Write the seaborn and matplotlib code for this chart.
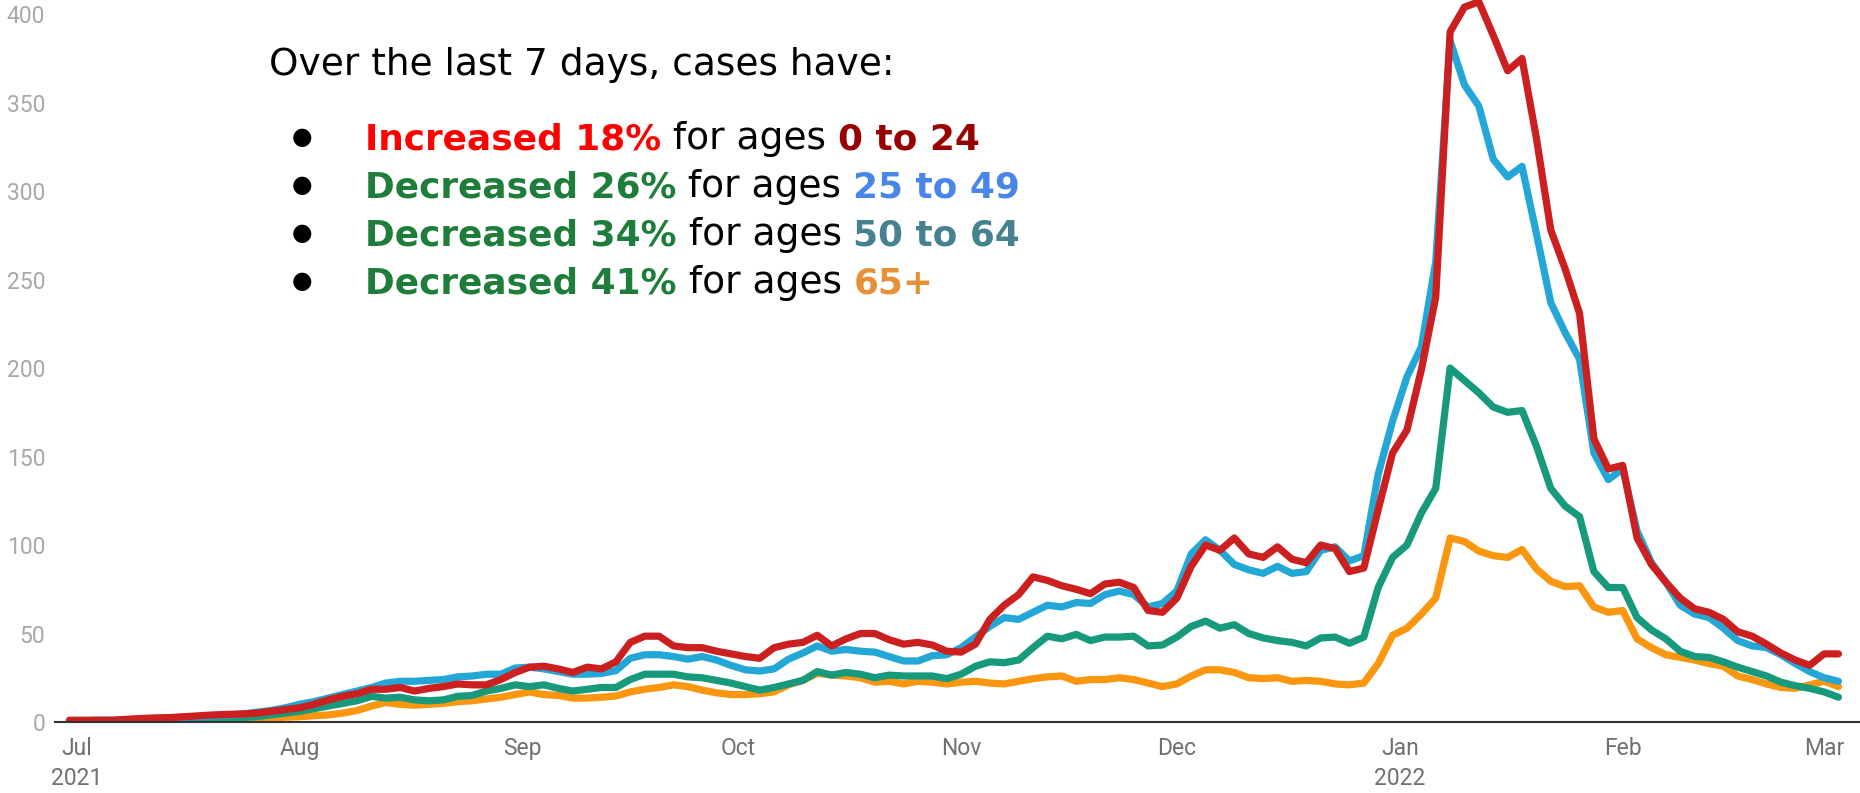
import pandas as pd
import matplotlib
matplotlib.use('Agg')
import matplotlib.pyplot as plt
import seaborn as sns

# 2-day samples, Jun 30 2021 -> Mar 3 2022 (7-day avg cases per 100k)
dates = pd.date_range('2021-06-30', periods=124, freq='2D')

ages_0_24 = [
    1, 1, 1, 1, 1.5, 2, 2.3, 2.5, 3, 3.5, 4, 4.3, 4.5, 5, 6, 7,
    8, 10, 12.5, 14.5, 16, 18.5, 18.5, 19.5, 17.5, 19, 20, 21.5, 21, 21, 24, 28, 31, 31.5,
    30, 28, 31, 30, 34, 45, 48.5, 48.5, 43, 42, 42, 40, 38.5,
    37, 36, 42, 44, 45, 49, 43, 47, 50, 50, 46.5, 44, 45, 43.5, 40, 39.5,
    44, 58, 66, 72, 82, 80, 77, 75, 72.5, 78, 79, 76, 63, 62,
    70, 88, 100, 97, 104, 95, 93, 99, 92, 90, 100, 98, 85, 87, 120, 152,
    165, 199, 240, 390, 404, 407, 388, 368, 375, 330, 278, 256, 231, 160, 143, 145,
    104, 89, 79, 70, 64, 62, 58, 51, 48.5, 44, 39, 35, 32, 38.5, 38.5,
]
ages_25_49 = [
    0.5, 0.7, 1, 1, 1.3, 1.7, 2, 2.3, 2.7, 3, 3.5, 4, 4.5, 5.5, 6.5, 8,
    10, 11.5, 13.5, 15.5, 17.5, 19.5, 22, 23, 23, 23.5, 24, 25.5, 26, 27, 27, 30.5, 31, 30,
    28.5, 27, 27, 27.5, 29, 36, 38, 38, 37, 35.5, 37, 35, 32,
    29.5, 28.8, 30, 35.5, 39, 43, 40, 41, 40, 39.5, 37, 34.5, 34.5, 37.5, 38, 42,
    48, 54, 59, 58, 62, 66, 65, 67.5, 67, 72, 74, 72, 65, 67,
    74, 95, 103, 97, 89, 86, 84, 88, 84, 85, 97, 99, 91, 94, 140, 170,
    195, 212, 260, 385, 360, 348, 318, 308, 314, 276, 237, 220, 205, 152, 137, 143,
    108, 90, 79, 66, 61, 59, 53, 46, 43, 42, 38, 33, 28.5, 25, 23,
]
ages_50_64 = [
    0, 0, 0, 0.3, 0.5, 0.7, 1, 1.2, 1.5, 1.8, 2, 2.3, 2.6, 3, 4, 5,
    6, 7.5, 9, 10.5, 12, 14.5, 13.5, 14, 12.5, 12, 12.5, 14.5, 15, 17.5, 19, 21, 20, 21,
    19, 17.5, 18.5, 19.5, 19.5, 24, 27, 27, 27, 25.5, 25, 23.5, 22,
    20, 18, 19.5, 21.5, 23.5, 28.5, 26.5, 28, 27, 25, 26.5, 26, 26, 26, 24.5, 27,
    31.5, 34, 33.5, 35, 42, 48.5, 47, 49.5, 46, 48, 48, 48.5, 43, 43.5,
    48, 54, 57, 53, 55, 50, 47.5, 46, 45, 43, 47.5, 48, 44.5, 48, 76, 93,
    100, 118, 132, 200, 193, 186, 178, 175, 176, 156, 132, 122, 116, 85, 76, 76,
    59, 52, 47, 40, 37, 36.5, 34, 31, 28.5, 26, 22.5, 20.5, 19, 17, 14,
]
ages_65_plus = [
    0.3, 0.3, 0.3, 0.3, 0.5, 0.5, 0.7, 0.8, 1, 1, 1.2, 1.5, 1.8, 2, 2.3, 2.7,
    3, 3.5, 4, 5, 6.5, 9, 11, 10, 9.5, 10, 10.5, 11.5, 12, 13, 14, 15.5, 17, 15.5,
    15, 13.5, 13.5, 14, 14.7, 17, 18.5, 19.5, 21, 20, 18, 16.5, 15.5,
    15.5, 16, 17, 21, 23.5, 27.5, 26.5, 26, 25, 22.5, 23, 21.5, 23, 22.5, 21.5, 22.5,
    23, 22, 21.5, 23, 24.5, 25.5, 26, 23, 24, 24, 25, 24, 22, 20,
    21.5, 26, 29.5, 29.5, 28, 25, 24.5, 25, 23, 23.5, 23, 21.5, 21, 22, 33, 49,
    53, 61, 70, 104, 102, 96.5, 94, 93, 97.5, 86.5, 79.5, 76.5, 77, 65, 62, 63,
    47, 42, 38, 36.5, 35, 33, 31.5, 26, 24, 21.5, 19.5, 19, 21, 23, 20,
]

series = {'65+': ages_65_plus, '50 to 64': ages_50_64,
          '25 to 49': ages_25_49, '0 to 24': ages_0_24}
colors = {'65+': '#fb960f', '50 to 64': '#179a7b',
          '25 to 49': '#22a7d6', '0 to 24': '#cc1f1f'}

month_ticks = pd.date_range('2021-07-01', '2022-03-01', freq='MS')
month_labels = ['Jul\n2021', 'Aug', 'Sep', 'Oct', 'Nov', 'Dec', 'Jan\n2022', 'Feb', 'Mar']

df = pd.concat([pd.DataFrame({'date': dates, 'cases': v, 'age': k})
                for k, v in series.items()], ignore_index=True)

sns.set_style('white')
plt.rcParams['font.family'] = ['Roboto', 'DejaVu Sans']

W, H = 1860, 793
fig = plt.figure(figsize=(W / 100, H / 100), dpi=100)
ax = fig.add_axes([55 / W, 71 / H, (W - 55) / W, 722 / H])

sns.lineplot(data=df, x='date', y='cases', hue='age', hue_order=list(series),
             palette=colors, linewidth=5.2, legend=False, ax=ax)

ax.set_xlim(pd.Timestamp('2021-06-28'), pd.Timestamp('2022-03-06'))
ax.set_ylim(0, 408)
ax.set_yticks(range(0, 401, 50))
ax.set_xticks(month_ticks)
ax.set_xticklabels(month_labels, linespacing=1.35)
ax.tick_params(axis='y', length=0, pad=7, labelsize=16.5, labelcolor='#a8a8a8')
ax.tick_params(axis='x', length=0, pad=11, labelsize=16.5, labelcolor='#707070')
ax.set_xlabel('')
ax.set_ylabel('')
for s in ['top', 'right', 'left']:
    ax.spines[s].set_visible(False)
ax.spines['bottom'].set_color('#333333')
ax.spines['bottom'].set_linewidth(1.5)

# annotation block, placed segment by segment
renderer = fig.canvas.get_renderer()
SIZES = {'normal': 27, 'bold': 25.8}


def rich_line(x, y, parts):
    for txt, color, weight in parts:
        t = fig.text(x / W, 1 - y / H, txt, color=color, fontsize=SIZES[weight],
                     fontweight=weight, family='DejaVu Sans', va='baseline')
        x += t.get_window_extent(renderer).width


rich_line(269, 75, [('Over the last 7 days, cases have:', 'black', 'normal')])

green = '#1f7d3b'
rows = [
    [('Increased 18%', '#ff0000', 'bold'), (' for ages ', 'black', 'normal'), ('0 to 24', '#990000', 'bold')],
    [('Decreased 26%', green, 'bold'), (' for ages ', 'black', 'normal'), ('25 to 49', '#4a86e8', 'bold')],
    [('Decreased 34%', green, 'bold'), (' for ages ', 'black', 'normal'), ('50 to 64', '#45818e', 'bold')],
    [('Decreased 41%', green, 'bold'), (' for ages ', 'black', 'normal'), ('65+', '#e69138', 'bold')],
]
baselines = [149, 197, 245, 293]
for yb, parts in zip(baselines, rows):
    fig.text(302 / W, 1 - (yb - 12) / H, '\u25CF', fontsize=17, family='DejaVu Sans',
             ha='center', va='center', color='black')
    rich_line(365, yb, parts)

fig.savefig('out.png', dpi=100)
